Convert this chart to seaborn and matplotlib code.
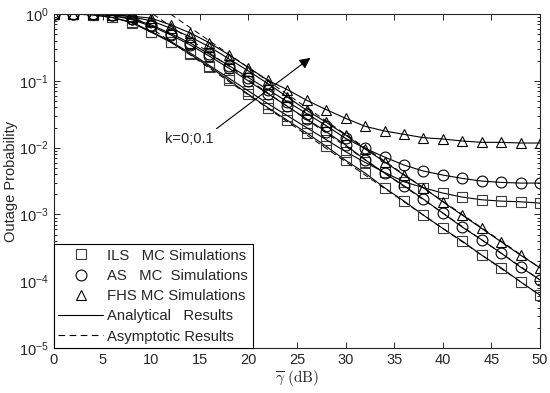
import numpy as np
import pandas as pd
import seaborn as sns
import matplotlib
matplotlib.use('Agg')
import matplotlib.pyplot as plt
from matplotlib.lines import Line2D

# SNR points (dB)
snr = list(range(0, 51, 2))

# log10 of outage probability
ils_k0 = [0, 0, -0.01, -0.05, -0.13, -0.27, -0.42, -0.60, -0.79, -0.99, -1.20, -1.40, -1.59,
          -1.78, -1.98, -2.19, -2.38, -2.60, -2.80, -3.01, -3.21, -3.40, -3.61, -3.80, -4.01, -4.21]
ils_k01 = [0, 0, -0.01, -0.05, -0.12, -0.26, -0.41, -0.58, -0.77, -0.96, -1.15, -1.34, -1.52,
           -1.70, -1.88, -2.06, -2.22, -2.37, -2.51, -2.60, -2.68, -2.74, -2.78, -2.80, -2.81, -2.83]
as_k0 = [0, 0, 0, -0.02, -0.08, -0.18, -0.31, -0.46, -0.63, -0.81, -1.00, -1.19, -1.38,
         -1.57, -1.76, -1.96, -2.18, -2.38, -2.57, -2.77, -2.98, -3.19, -3.38, -3.58, -3.79, -3.98]
as_k01 = [0, 0, 0, -0.02, -0.07, -0.16, -0.29, -0.43, -0.60, -0.77, -0.95, -1.13, -1.31,
          -1.49, -1.67, -1.86, -2.01, -2.14, -2.26, -2.35, -2.41, -2.46, -2.50, -2.52, -2.53, -2.53]
fhs_k0 = [0, 0, 0, -0.01, -0.04, -0.10, -0.21, -0.34, -0.49, -0.67, -0.85, -1.04, -1.24,
          -1.44, -1.62, -1.81, -2.02, -2.21, -2.41, -2.60, -2.81, -3.01, -3.21, -3.41, -3.61, -3.80]
fhs_k01 = [0, 0, 0, -0.01, -0.03, -0.06, -0.16, -0.28, -0.43, -0.61, -0.80, -0.99, -1.13,
           -1.29, -1.43, -1.56, -1.68, -1.75, -1.80, -1.85, -1.87, -1.90, -1.92, -1.92, -1.93, -1.93]

# asymptotic (high SNR) lines for k=0, start/end points
asy_x = {'ILS': [7.9, 50], 'AS': [10.2, 50], 'FHS': [12.0, 50]}
asy_y = {'ILS': [0, -4.21], 'AS': [0, -3.98], 'FHS': [0, -3.80]}

sns.set_style('ticks')
plt.rcParams['font.family'] = ['Liberation Sans', 'DejaVu Sans']
plt.rcParams['xtick.direction'] = 'in'
plt.rcParams['ytick.direction'] = 'in'

fig = plt.figure(figsize=(5.5, 3.93), dpi=100)
ax = fig.add_axes([0.098, 0.1145, 0.884, 0.8495])

curves = [
    (ils_k0, 's', '#3c3c3c'), (ils_k01, 's', '#3c3c3c'),
    (as_k0, 'o', 'k'), (as_k01, 'o', 'k'),
    (fhs_k0, '^', 'k'), (fhs_k01, '^', 'k'),
]
for vals, mk, ec in curves:
    df = pd.DataFrame({'snr': snr, 'p': 10.0 ** np.array(vals)})
    sns.lineplot(data=df, x='snr', y='p', color='k', lw=0.8, ax=ax,
                 marker=mk, markersize=7.8, markerfacecolor='none',
                 markeredgecolor=ec, markeredgewidth=0.8)

for key in asy_x:
    df = pd.DataFrame({'snr': asy_x[key], 'p': 10.0 ** np.array(asy_y[key])})
    sns.lineplot(data=df, x='snr', y='p', color='k', lw=0.7, ls=(0, (6, 4)), ax=ax)

ax.set_yscale('log')
ax.set_xlim(0, 50)
ax.set_ylim(1e-5, 1)
ax.set_xticks(range(0, 51, 5))
ax.set_yticks([1e-5, 1e-4, 1e-3, 1e-2, 1e-1, 1])
ax.tick_params(which='both', top=True, right=True, labelsize=10.5, width=0.7)
ax.tick_params(which='major', length=4)
ax.tick_params(which='minor', length=2)
for s in ax.spines.values():
    s.set_linewidth(0.8)

ax.set_xlabel(r'$\overline{\gamma}\ \mathrm{(dB)}$', fontsize=11, math_fontfamily='cm', labelpad=1)
ax.set_ylabel('Outage Probability', fontsize=10.5, labelpad=1)

ax.annotate('', xy=(26.6, 10 ** -0.63), xytext=(16.5, 10 ** -1.74),
            arrowprops=dict(arrowstyle='-|>', color='k', lw=0.8, mutation_scale=16))
ax.text(13.9, 10 ** -1.87, 'k=0;0.1', fontsize=10.5, ha='center', va='center')

handles = [
    Line2D([], [], ls='none', marker='s', markersize=7.8, markerfacecolor='none',
           markeredgecolor='#3c3c3c', markeredgewidth=0.8),
    Line2D([], [], ls='none', marker='o', markersize=7.8, markerfacecolor='none',
           markeredgecolor='k', markeredgewidth=0.8),
    Line2D([], [], ls='none', marker='^', markersize=7.8, markerfacecolor='none',
           markeredgecolor='k', markeredgewidth=0.8),
    Line2D([], [], color='k', lw=0.8),
    Line2D([], [], color='k', lw=0.8, ls=(0, (6, 4))),
]
labels = ['ILS   MC Simulations', 'AS   MC  Simulations', 'FHS MC Simulations',
          'Analytical   Results', 'Asymptotic Results']
leg = ax.legend(handles, labels, loc='lower left', bbox_to_anchor=(0, 0), borderaxespad=0,
                fontsize=10.7, handlelength=3.0, handletextpad=0.3, labelspacing=0.42,
                borderpad=0.3, fancybox=False, framealpha=1, edgecolor='k')
leg.get_frame().set_linewidth(0.8)

fig.savefig('out.png', dpi=100)
